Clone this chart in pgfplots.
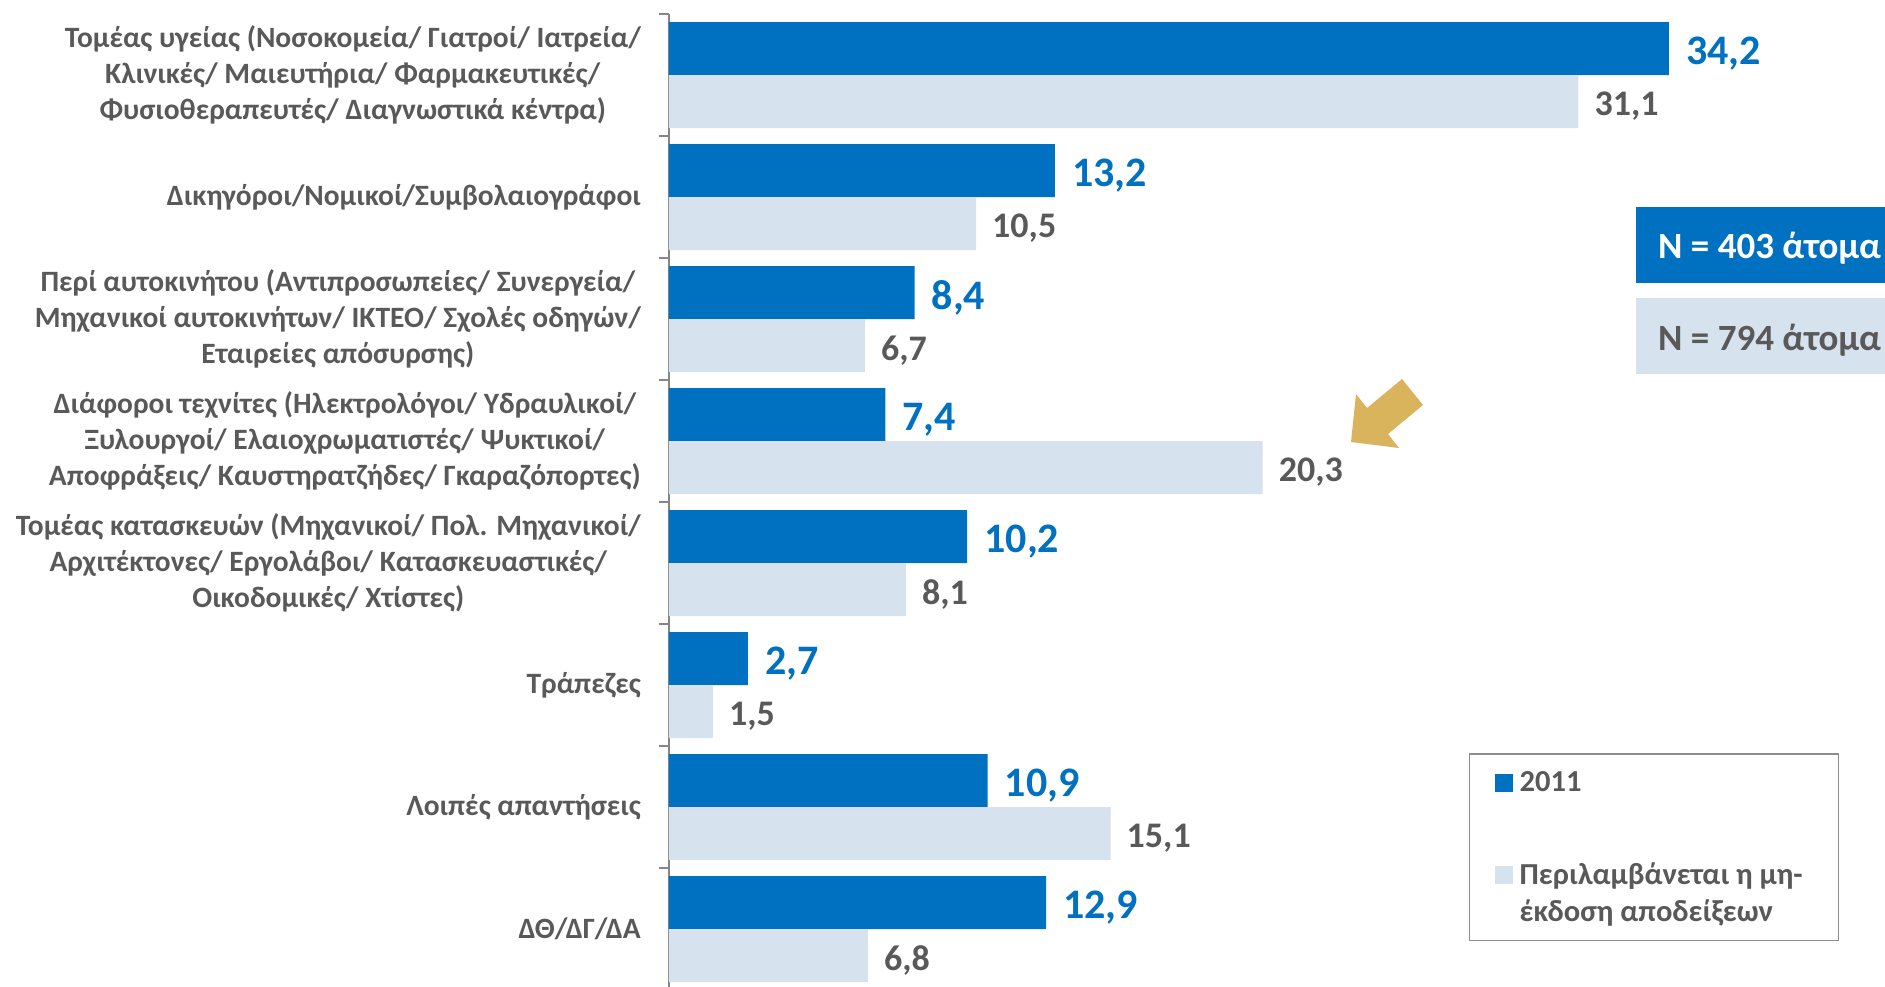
\documentclass[border=0pt]{standalone}
\usepackage{fontspec}
\setmainfont{Carlito}
\usepackage{pgfplots}
\pgfplotsset{compat=1.18}
\definecolor{cdark}{HTML}{0070C0}
\definecolor{clight}{HTML}{D6E2EE}
\definecolor{ctext}{HTML}{595959}
\definecolor{caxis}{HTML}{868686}
\definecolor{clegend}{HTML}{8C8C8C}
\definecolor{cgold}{HTML}{D9B45D}
\begin{document}
\begin{tikzpicture}
\begin{axis}[
  at={(669pt,-14pt)}, anchor=north west,
  scale only axis, width=1169.6pt, height=976pt,
  xbar, bar width=53pt,
  xmin=0, xmax=40, ymin=-0.5, ymax=7.5,
  hide x axis,
  axis y line*=left,
  y axis line style={draw=caxis, line width=2pt},
  ytick={0,...,7},
  yticklabels={
    {ΔΘ/ΔΓ/ΔΑ},
    {Λοιπές απαντήσεις},
    {Τράπεζες},
    {Τομέας κατασκευών (Μηχανικοί/ Πολ. Μηχανικοί/\\Αρχιτέκτονες/ Εργολάβοι/ Κατασκευαστικές/\\Οικοδομικές/ Χτίστες)},
    {Διάφοροι τεχνίτες (Ηλεκτρολόγοι/ Υδραυλικοί/\\Ξυλουργοί/ Ελαιοχρωματιστές/ Ψυκτικοί/\\Αποφράξεις/ Καυστηρατζήδες/ Γκαραζόπορτες)},
    {Περί αυτοκινήτου (Αντιπροσωπείες/ Συνεργεία/\\Μηχανικοί αυτοκινήτων/ ΙΚΤΕΟ/ Σχολές οδηγών/\\Εταιρείες απόσυρσης)},
    {Δικηγόροι/Νομικοί/Συμβολαιογράφοι},
    {Τομέας υγείας (Νοσοκομεία/ Γιατροί/ Ιατρεία/\\Κλινικές/ Μαιευτήρια/ Φαρμακευτικές/\\Φυσιοθεραπευτές/ Διαγνωστικά κέντρα)}
  },
  major tick length=0pt,
  minor ytick={-0.5,0.5,...,7.5},
  minor tick length=10pt,
  tick align=outside,
  tick style={draw=caxis, line width=2pt},
  yticklabel style={font=\fontsize{29.5}{36}\selectfont\bfseries, text=ctext, align=center, inner sep=0pt, xshift=-28pt},
  /pgf/number format/fixed,
  /pgf/number format/fixed zerofill,
  /pgf/number format/precision=1,
  /pgf/number format/use comma,
  /pgf/number format/assume math mode=true,
  legend style={at={(axis description cs:0.684,0.2428)}, anchor=north west,
    draw=clegend, line width=1.5pt, fill=white,
    inner xsep=25pt, inner ysep=16pt, column sep=5pt, row sep=65pt,
    font=\fontsize{30.5}{37}\selectfont\bfseries, text=ctext,
    cells={anchor=base west, inner sep=0pt}},
]
\addplot[fill=cdark, draw=none, bar shift=26.5pt,
  nodes near coords,
  every node near coord/.append style={font=\fontsize{42}{50}\selectfont\bfseries, text=cdark, anchor=west, inner sep=0pt, xshift=17pt, yshift=-5pt},
  legend image code/.code={\fill[cdark] (0pt,0pt) rectangle (18pt,18pt);}]
  coordinates {(12.9,0) (10.9,1) (2.7,2) (10.2,3) (7.4,4) (8.4,5) (13.2,6) (34.2,7)};
\addlegendentry{\parbox[b]{292pt}{\raggedright 2011}}
\addplot[fill=clight, draw=none, bar shift=-26.5pt,
  nodes near coords,
  every node near coord/.append style={font=\fontsize{36}{43}\selectfont\bfseries, text=ctext, anchor=west, inner sep=0pt, xshift=16pt, yshift=-5pt},
  legend image code/.code={\fill[clight] (0pt,37pt) rectangle (18pt,55pt);}]
  coordinates {(6.8,0) (15.1,1) (1.5,2) (8.1,3) (20.3,4) (6.7,5) (10.5,6) (31.1,7)};
\addlegendentry{\parbox[b]{292pt}{\raggedright Περιλαμβάνεται η μη-\\έκδοση αποδείξεων}}
\end{axis}
% sample-size boxes
\fill[cdark] (1636pt,-207pt) rectangle (1900pt,-283pt);
\node[anchor=base west, text=white, font=\fontsize{37}{45}\selectfont\bfseries, inner sep=0pt] at (1658pt,-258pt) {N = 403 άτομα};
\fill[clight] (1636pt,-298pt) rectangle (1900pt,-374pt);
\node[anchor=base west, text=ctext, font=\fontsize{37}{45}\selectfont\bfseries, inner sep=0pt] at (1658pt,-350pt) {N = 794 άτομα};
% arrow
\fill[cgold] (1402pt,-379pt) -- (1423pt,-405pt) -- (1388pt,-434pt) -- (1399pt,-448pt) -- (1351pt,-442pt) -- (1356pt,-394pt) -- (1367pt,-408pt) -- cycle;
\pgfresetboundingbox
\path[use as bounding box] (0pt,0pt) rectangle (1885pt,-986pt);
\end{tikzpicture}
\end{document}
